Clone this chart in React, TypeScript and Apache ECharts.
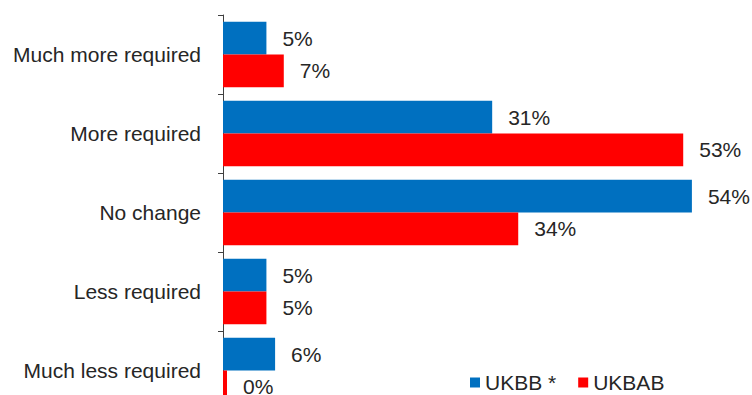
import React, { useEffect, useRef } from "react";
import * as echarts from "echarts";

const categories = [
  "Much more required",
  "More required",
  "No change",
  "Less required",
  "Much less required",
];
const seriesNames = ["UKBB *", "UKBAB"];
const ukbbValues = [5, 31, 54, 5, 6];
const ukbabValues = [7, 53, 34, 5, 0];

const FONT = "'Liberation Sans', Arial, sans-serif";
const TEXT = "#262626";

export default function App() {
  const ref = useRef<HTMLDivElement>(null);
  useEffect(() => {
    if (!ref.current) return;
    const chart = echarts.init(ref.current, undefined, { renderer: "svg" });
    const labelCfg = {
      show: true,
      position: "right" as const,
      distance: 16,
      formatter: "{c}%",
      fontSize: 21,
      fontFamily: FONT,
      color: TEXT,
    };
    chart.setOption({
      animation: false,
      backgroundColor: "#ffffff",
      grid: {
        left: 223,
        width: 521,
        top: 15,
        height: 395,
        containLabel: false,
        outerBoundsMode: "none",
      },
      legend: {
        data: seriesNames,
        left: 470,
        top: 372,
        padding: 0,
        itemWidth: 10,
        itemHeight: 10,
        itemGap: 22,
        icon: "rect",
        textStyle: { fontSize: 21, fontFamily: FONT, color: TEXT },
      },
      xAxis: {
        type: "value",
        min: 0,
        max: 60,
        show: false,
      },
      yAxis: {
        type: "category",
        data: categories,
        inverse: true,
        axisLine: { show: true, lineStyle: { color: "#404040", width: 1 } },
        axisTick: { show: true, length: 5, lineStyle: { color: "#404040" } },
        axisLabel: { margin: 22, fontSize: 21, fontFamily: FONT, color: TEXT },
        splitLine: { show: false },
      },
      series: [
        {
          name: seriesNames[0],
          type: "bar",
          data: ukbbValues,
          itemStyle: { color: "#0070C0" },
          barCategoryGap: "17%",
          barGap: "0%",
          label: labelCfg,
        },
        {
          name: seriesNames[1],
          type: "bar",
          data: ukbabValues,
          itemStyle: { color: "#FF0000" },
          barCategoryGap: "17%",
          barGap: "0%",
          barMinHeight: 4,
          label: labelCfg,
        },
      ],
    });
    return () => chart.dispose();
  }, []);
  return (
    <div
      ref={ref}
      style={{ position: "fixed", left: 0, top: 0, width: 752, height: 395 }}
    />
  );
}
